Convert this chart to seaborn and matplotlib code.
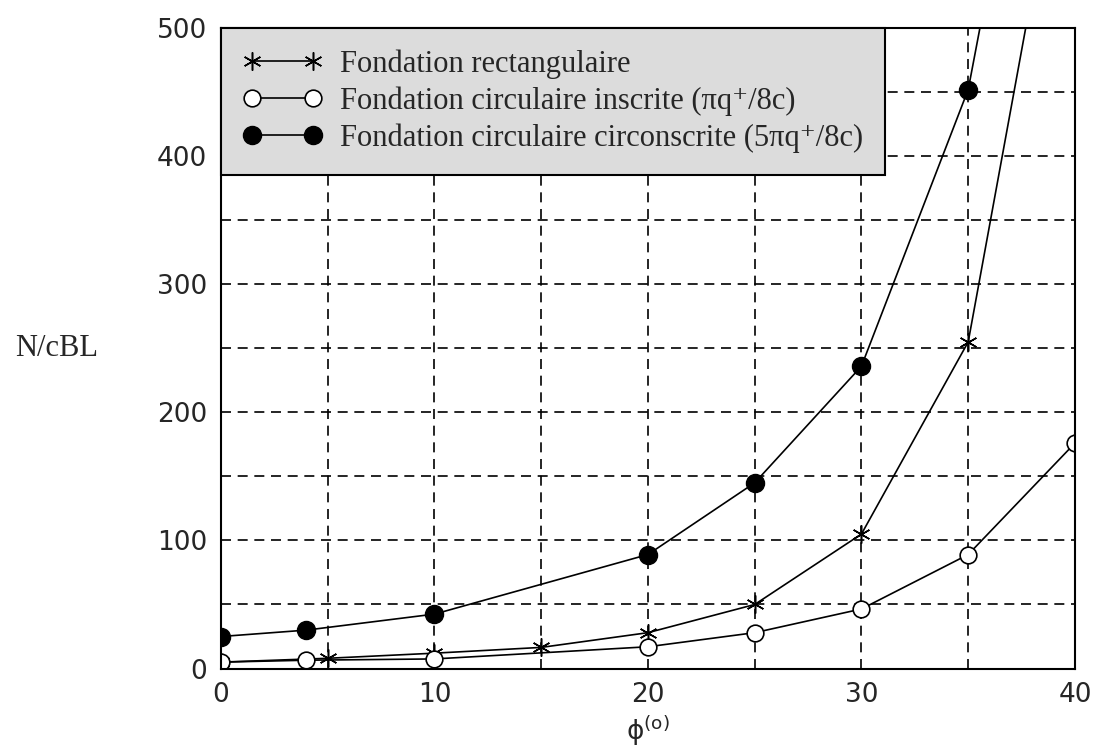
import numpy as np
import pandas as pd
import matplotlib
matplotlib.use("Agg")
import matplotlib.pyplot as plt
import seaborn as sns

# values
phi_rect = [0, 5, 10, 15, 20, 25, 30, 35, 40]
n_rect = [5, 8, 12, 16.5, 28, 50, 105, 255, 710]

phi_insc = [0, 4, 10, 20, 25, 30, 35, 40]
n_insc = [5, 6.5, 7.5, 17, 28, 46.5, 89, 176]

phi_circ = [0, 4, 10, 20, 25, 30, 35, 40]
n_circ = [25, 30, 42.5, 89, 145, 236, 452, 890]

labels = [
    "Fondation rectangulaire",
    "Fondation circulaire inscrite (πq⁺/8c)",
    "Fondation circulaire circonscrite (5πq⁺/8c)",
]
x_ticks = [0, 10, 20, 30, 40]
y_ticks = [0, 100, 200, 300, 400, 500]

sns.set_style("white")
plt.rcParams["font.family"] = ["DejaVu Sans"]
serif = ["Liberation Serif", "DejaVu Serif"]

fig = plt.figure(figsize=(10.94, 7.51), dpi=100)
ax = fig.add_axes([0.202, 0.1098, 0.7806, 0.8529])

line_kw = dict(color="k", linewidth=1.2, markeredgecolor="k", ax=ax)
sns.lineplot(x=phi_rect, y=n_rect, marker=(6, 2, 0), markersize=13,
             markeredgewidth=1.1, label=labels[0], **line_kw)
sns.lineplot(x=phi_insc, y=n_insc, marker="o", markersize=12,
             markerfacecolor="white", markeredgewidth=1.2,
             label=labels[1], **line_kw)
sns.lineplot(x=phi_circ, y=n_circ, marker="o", markersize=13,
             markerfacecolor="k", markeredgewidth=1.0,
             label=labels[2], **line_kw)

ax.set_xlim(0, 40)
ax.set_ylim(0, 500)
ax.set_xticks(x_ticks)
ax.set_xticks([5, 15, 25, 35], minor=True)
ax.set_yticks(y_ticks)
ax.set_yticks(np.arange(50, 500, 100), minor=True)
ax.tick_params(which="both", length=0, labelsize=19, pad=10)
ax.grid(which="both", color="k", linestyle=(0, (6, 4)), linewidth=1.2)

for s in ax.spines.values():
    s.set_color("k")
    s.set_linewidth(1.5)

ax.set_ylabel("N/cBL", rotation=0, fontsize=22, family=serif,
              labelpad=72, va="center", ha="center")
ax.set_xlabel("ϕ$^{\\mathrm{(o)}}$", fontsize=19, labelpad=4)

leg = ax.legend(loc="upper left", borderaxespad=0, numpoints=2,
                prop={"family": serif, "size": 22},
                frameon=True, fancybox=False, framealpha=1,
                borderpad=0.7, handlelength=2.6, handletextpad=0.6,
                labelspacing=0.25)
frame = leg.get_frame()
frame.set_facecolor("#dcdcdc")
frame.set_edgecolor("k")
frame.set_linewidth(1.5)
leg.set_zorder(5)

fig.savefig("out.png", dpi=100)
